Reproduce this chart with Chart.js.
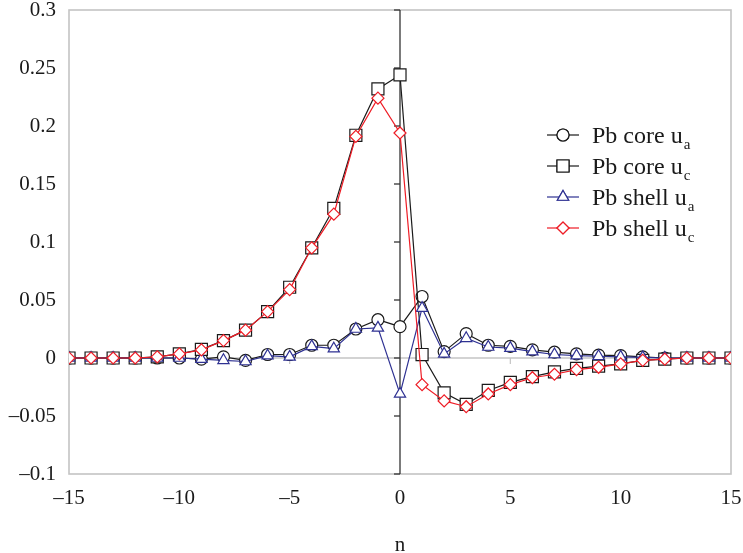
<!DOCTYPE html>
<html>
<head>
<meta charset="utf-8">
<script src="https://cdn.jsdelivr.net/npm/chart.js@4.4.1/dist/chart.umd.min.js"></script>
<style>
  html, body { margin: 0; padding: 0; background: #fff; }
  #wrap { width: 743px; height: 553px; position: relative; }
</style>
</head>
<body>
<div id="wrap"><canvas id="c" width="743" height="553"></canvas></div>
<script>
// ---- data ----
const nValues = [-15,-14,-13,-12,-11,-10,-9,-8,-7,-6,-5,-4,-3,-2,-1,0,1,2,3,4,5,6,7,8,9,10,11,12,13,14,15];
const coreUa  = [0,0,0,0,0,0,-0.001,0.001,-0.002,0.003,0.003,0.011,0.011,0.025,0.033,0.027,0.053,0.0055,0.021,0.011,0.010,0.007,0.005,0.0035,0.0025,0.002,0.001,0,0,0,0];
const coreUc  = [0,0,0,0,0.001,0.0035,0.0075,0.015,0.024,0.040,0.061,0.095,0.129,0.192,0.232,0.244,0.003,-0.030,-0.040,-0.028,-0.021,-0.016,-0.012,-0.009,-0.007,-0.005,-0.002,-0.001,0,0,0];
const shellUa = [0,0,0,0,0,0,-0.001,-0.002,-0.003,0.002,0.001,0.010,0.008,0.025,0.026,-0.031,0.043,0.0035,0.017,0.0095,0.0085,0.0055,0.003,0.002,0.0015,0.001,0.0005,0,0,0,0];
const shellUc = [0,0,0,0,0.001,0.0035,0.007,0.015,0.024,0.040,0.059,0.095,0.124,0.191,0.224,0.194,-0.023,-0.037,-0.042,-0.031,-0.023,-0.017,-0.014,-0.010,-0.008,-0.005,-0.002,-0.001,0,0,0];

const seriesNames = ['Pb core u', 'Pb core u', 'Pb shell u', 'Pb shell u'];
const seriesSubs  = ['a', 'c', 'a', 'c'];

const xTickValues = [-15,-10,-5,0,5,10,15];
const xTickLabels = ['\u201315','\u201310','\u20135','0','5','10','15'];
const yTickValues = [-0.1,-0.05,0,0.05,0.1,0.15,0.2,0.25,0.3];
const yTickLabels = ['\u20130.1','\u20130.05','0','0.05','0.1','0.15','0.2','0.25','0.3'];

// ---- styles ----
const FONT = "'Liberation Serif', 'Times New Roman', serif";
const BLACK = '#1a1a1a';
const BLUE = '#2e3192';
const RED = '#ee1c25';
const GRAY = '#c4c4c4';

function pts(arr) { return nValues.map((n, i) => ({ x: n, y: arr[i] })); }

const styles = [
  { color: BLACK, style: 'circle',   radius: 6,   order: 4, data: coreUa },
  { color: BLACK, style: 'rect',     radius: 8.5, order: 3, data: coreUc },
  { color: BLUE,  style: 'triangle', radius: 6.5, order: 2, data: shellUa },
  { color: RED,   style: 'rectRot',  radius: 6,   order: 1, data: shellUc },
];

const datasets = styles.map((s, i) => ({
  label: seriesNames[i] + seriesSubs[i],
  data: pts(s.data),
  borderColor: s.color,
  backgroundColor: '#ffffff',
  borderWidth: 1.2,
  pointStyle: s.style,
  pointRadius: s.radius,
  pointBorderWidth: 1.2,
  pointBackgroundColor: '#ffffff',
  pointBorderColor: s.color,
  tension: 0,
  order: s.order,
}));

const framePlugin = {
  id: 'frame',
  beforeDatasetsDraw(chart) {
    const { ctx, chartArea: a, scales: { x, y } } = chart;
    ctx.save();
    ctx.strokeStyle = GRAY;
    ctx.lineWidth = 1.6;
    ctx.strokeRect(a.left, a.top, a.right - a.left, a.bottom - a.top);
    const y0 = y.getPixelForValue(0);
    ctx.beginPath();
    ctx.moveTo(a.left, y0); ctx.lineTo(a.right, y0);
    ctx.stroke();
    ctx.lineWidth = 1.2;
    xTickValues.forEach(v => {
      const px = x.getPixelForValue(v);
      ctx.beginPath(); ctx.moveTo(px, y0); ctx.lineTo(px, y0 + 6); ctx.stroke();
    });
    const x0 = x.getPixelForValue(0);
    ctx.strokeStyle = '#333333';
    ctx.lineWidth = 1.3;
    ctx.beginPath(); ctx.moveTo(x0, a.top); ctx.lineTo(x0, a.bottom); ctx.stroke();
    yTickValues.forEach(v => {
      const py = y.getPixelForValue(v);
      ctx.beginPath(); ctx.moveTo(x0 - 6, py); ctx.lineTo(x0, py); ctx.stroke();
    });
    ctx.restore();
  },
  afterDraw(chart) {
    const { ctx } = chart;
    ctx.save();
    const lx0 = 547, lx1 = 579, mx = 563, tx = 592;
    const rowY = [135, 166, 197, 228];
    styles.forEach((s, i) => {
      const yy = rowY[i];
      ctx.strokeStyle = s.color;
      ctx.lineWidth = 1.2;
      ctx.beginPath(); ctx.moveTo(lx0, yy); ctx.lineTo(lx1, yy); ctx.stroke();
      ctx.fillStyle = '#ffffff';
      Chart.helpers.drawPoint(ctx, { pointStyle: s.style, radius: s.radius, borderWidth: 1.2 }, mx, yy);
      ctx.fill();
      ctx.stroke();
      ctx.fillStyle = BLACK;
      ctx.textBaseline = 'alphabetic';
      ctx.textAlign = 'left';
      ctx.font = "24px " + FONT;
      const main = seriesNames[i];
      ctx.fillText(main, tx, yy + 8);
      const w = ctx.measureText(main).width;
      ctx.font = "15px " + FONT;
      ctx.fillText(seriesSubs[i], tx + w + 1, yy + 14);
    });
    ctx.restore();
  }
};

new Chart(document.getElementById('c'), {
  type: 'line',
  data: { datasets },
  options: {
    responsive: false,
    animation: false,
    devicePixelRatio: 1,
    layout: { padding: { top: 10, right: 12, left: 0, bottom: 0 } },
    plugins: { legend: { display: false }, tooltip: { enabled: false } },
    scales: {
      x: {
        type: 'linear',
        min: -15, max: 15,
        afterBuildTicks: (s) => { s.ticks = xTickValues.map(v => ({ value: v })); },
        afterFit: (s) => { s.height = 79; s.paddingLeft = 0; s.paddingRight = 0; },
        grid: { display: false, drawTicks: false },
        border: { display: false },
        ticks: {
          padding: 12,
          color: BLACK,
          font: { family: FONT, size: 21 },
          maxRotation: 0,
          callback: (v, i) => xTickLabels[i],
        },
        title: {
          display: true, text: 'n', color: BLACK,
          font: { family: FONT, size: 21 },
          padding: { top: 0, bottom: -5 },
        },
      },
      y: {
        type: 'linear',
        min: -0.1, max: 0.3,
        afterBuildTicks: (s) => { s.ticks = yTickValues.map(v => ({ value: v })); },
        afterFit: (s) => { s.width = 69; s.paddingTop = 0; s.paddingBottom = 0; },
        grid: { display: false, drawTicks: false },
        border: { display: false },
        ticks: {
          padding: 13,
          color: BLACK,
          font: { family: FONT, size: 21 },
          callback: (v, i) => yTickLabels[i],
        },
      },
    },
  },
  plugins: [framePlugin],
});
</script>
</body>
</html>
